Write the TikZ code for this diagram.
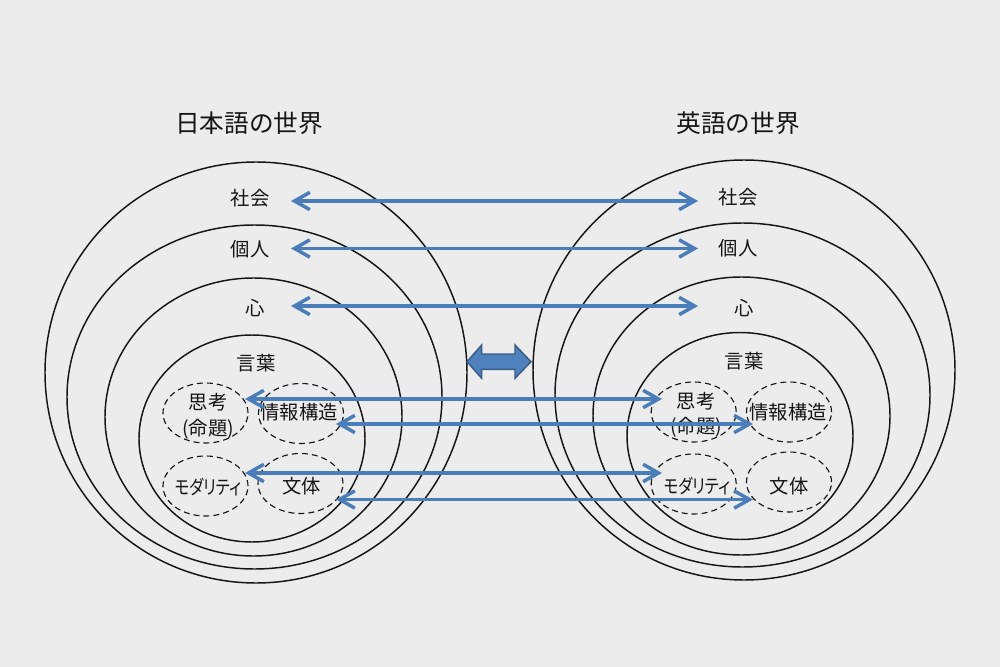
\documentclass[tikz,border=0pt]{standalone}
\usepackage{fontspec}
\setmainfont{Noto Sans CJK JP}
\newfontfamily\pfont[RawFeature=+palt]{Noto Sans CJK JP}
\usetikzlibrary{shapes.geometric,arrows.meta}
\definecolor{paper}{HTML}{ECECEC}
\definecolor{arrowblue}{HTML}{4A7EBB}
\definecolor{bigfill}{HTML}{4F81BD}
\definecolor{bigedge}{HTML}{385D8A}
\definecolor{ink}{HTML}{151515}
\tikzset{
  ring/.style={ellipse, draw=ink, line width=1.1pt, inner sep=0pt},
  bubble/.style={ellipse, draw=ink, dash pattern=on 4.5pt off 3pt, line width=0.85pt,
    inner sep=0pt, minimum width=63.75pt, minimum height=45pt},
  lbl/.style={font=\fontsize{14.5}{17}\selectfont, inner sep=0pt, text=ink},
  ttl/.style={font=\fontsize{18.5}{22}\selectfont, inner sep=0pt, text=ink},
  link/.style={draw=arrowblue, line width=2.6pt,
    {Straight Barb[length=11.5pt,width=13pt]}-{Straight Barb[length=11.5pt,width=13pt]}},
}
\begin{document}
\begin{tikzpicture}[x=0.75pt,y=-0.75pt]
\fill[paper] (0,0) rectangle (1000,667);
\useasboundingbox (0,0) rectangle (1000,667);

% titles
\node[ttl] (tj) at (249,123) {日本語の世界};
\node[ttl] (te) at (738,123) {英語の世界};

% left rings
\node[ring, minimum width=316.5pt, minimum height=315.75pt] (L1) at (256,372.5) {};
\node[ring, minimum width=281.25pt, minimum height=258pt] (L2) at (254.5,397) {};
\node[ring, minimum width=222.75pt, minimum height=208.5pt] (L3) at (253.5,417) {};
\node[ring, minimum width=169.5pt, minimum height=155.25pt] (L4) at (252,438.5) {};
% right rings
\node[ring, minimum width=316.5pt, minimum height=315pt] (R1) at (744,370) {};
\node[ring, minimum width=281.25pt, minimum height=258pt] (R2) at (742.5,395) {};
\node[ring, minimum width=222.75pt, minimum height=208.5pt] (R3) at (741.5,416) {};
\node[ring, minimum width=169.5pt, minimum height=155.25pt] (R4) at (740,436) {};

% bubbles
\node[bubble] (Lb1) at (205.5,413) {};
\node[bubble] (Lb2) at (301,413.5) {};
\node[bubble] (Lb3) at (205.5,486) {};
\node[bubble] (Lb4) at (300.5,483.5) {};
\node[bubble] (Rb1) at (693.7,412) {};
\node[bubble] (Rb2) at (789,412) {};
\node[bubble] (Rb3) at (693.7,484) {};
\node[bubble] (Rb4) at (789,482) {};

% left labels
\node[lbl] (Ls) at (250,198) {社会};
\node[lbl] (Lk) at (250,249) {個人};
\node[lbl] (Lh) at (255,308) {心};
\node[lbl] (Lw) at (256,363) {言葉};
\node[lbl] (Lt1) at (208,402) {思考};
\node[lbl] (Lt2) at (208,429) {(命題)};
\node[lbl] (Li) at (299,412) {情報構造};
\node[lbl, font=\fontsize{14.5}{17}\pfont] (Lm) at (208,486.7) {\scalebox{0.8}[1]{モダリティ}};
\node[lbl] (Lb) at (301.7,486) {文体};
% right labels
\node[lbl] (Rs) at (738,197) {社会};
\node[lbl] (Rk) at (738,248) {個人};
\node[lbl] (Rh) at (744,308) {心};
\node[lbl] (Rw) at (744,361.5) {言葉};
\node[lbl] (Rt1) at (696,401) {思考};
\node[lbl] (Rt2) at (696,427) {(命題)};
\node[lbl] (Ri) at (788,412) {情報構造};
\node[lbl, font=\fontsize{14.5}{17}\pfont] (Rm) at (697,486) {\scalebox{0.8}[1]{モダリティ}};
\node[lbl] (Rb) at (789,486) {文体};

% big double arrow
\draw[fill=bigfill, draw=bigedge, line width=1.1pt, line join=miter]
  (467,361.7) -- (481.7,345) -- (481.7,354) -- (515,354) -- (515,345) -- (531,361.7)
  -- (515,378.3) -- (515,369.3) -- (481.7,369.3) -- (481.7,378.3) -- cycle;

% arrow end points
\coordinate (a1l) at (291,201);   \coordinate (a1r) at (698,201);
\coordinate (a2l) at (291,248.5); \coordinate (a2r) at (698,248.5);
\coordinate (a3l) at (291,306);   \coordinate (a3r) at (698,306);
\coordinate (a4l) at (245,399);   \coordinate (a4r) at (662,399);
\coordinate (a5l) at (336,424);   \coordinate (a5r) at (753,424);
\coordinate (a6l) at (245,473);   \coordinate (a6r) at (662,473);
\coordinate (a7l) at (336,499.5); \coordinate (a7r) at (753,499.5);

\draw[link] (a1l) -- (a1r);
\draw[link] (a2l) -- (a2r);
\draw[link] (a3l) -- (a3r);
\draw[link] (a4l) -- (a4r);
\draw[link] (a5l) -- (a5r);
\draw[link] (a6l) -- (a6r);
\draw[link] (a7l) -- (a7r);
\end{tikzpicture}
\end{document}
